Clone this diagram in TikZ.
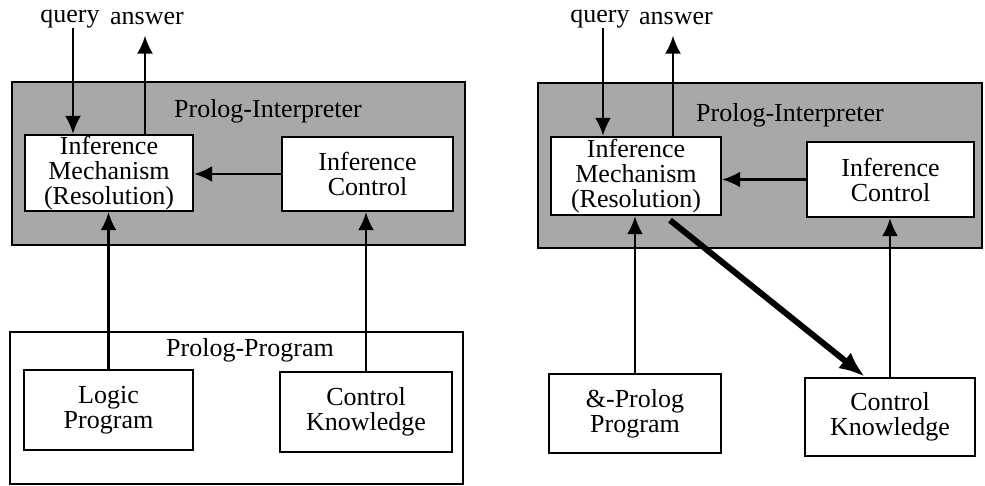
\documentclass[tikz,border=0pt]{standalone}
\usepackage{fontspec}
\setmainfont{Liberation Serif}
\usetikzlibrary{arrows.meta}

\begin{document}
\begin{tikzpicture}[x=0.5pt,y=-0.5pt,
>={Latex[length=9pt,width=8pt]},
every node/.style={font=\fontsize{13}{12.5}\selectfont,align=center,inner sep=0pt},
shaded/.style={draw,line width=1.2pt,fill=gray!68},
frame/.style={draw,line width=1.2pt,fill=white},
link/.style={->,line width=1.2pt},
boldlink/.style={-{Latex[length=13pt,width=10pt]},line width=3pt}]

\useasboundingbox (0,0) rectangle (985,486);

% left: sequential Prolog
\node[shaded,minimum width=226.5pt,minimum height=81.5pt] (intL) at (238.5,163.5) {};
\node (intLname) at (268,111) {Prolog-Interpreter};
\node[frame,minimum width=226.5pt,minimum height=76pt] (progL) at (236.5,408) {};
\node (progLname) at (250,350) {Prolog-Program};

\node[frame,minimum width=84pt,minimum height=38pt] (imL) at (109,173) {Inference\\Mechanism\\(Resolution)};
\node[frame,minimum width=85.5pt,minimum height=37pt] (icL) at (367.5,174) {Inference\\Control};
\node[frame,minimum width=84.5pt,minimum height=40pt] (lpL) at (108.5,410) {Logic\\Program};
\node[frame,minimum width=86pt,minimum height=40pt] (ckL) at (366,412) {Control\\Knowledge};

\node (queryL) at (70,19) {query};
\node (answerL) at (147,19) {answer};

\draw[link] ([xshift=1.5pt]queryL.south) -- ([xshift=1.5pt]queryL.south |- imL.north);
\draw[link] ([xshift=-1pt]answerL.south |- imL.north) -- ([xshift=-1pt]answerL.south) [shorten >=5pt];
\draw[link] (icL.west) -- (icL.west -| imL.east);
\draw[link] (lpL.north) -- (lpL.north |- imL.south);
\draw[link] (ckL.north) -- (ckL.north |- icL.south);

% right: &-Prolog
\node[shaded,minimum width=222pt,minimum height=82.5pt] (intR) at (760,165.5) {};
\node (intRname) at (790,115) {Prolog-Interpreter};

\node[frame,minimum width=85pt,minimum height=39pt] (imR) at (636,176) {Inference\\Mechanism\\(Resolution)};
\node[frame,minimum width=83.5pt,minimum height=37.5pt] (icR) at (890.5,179.5) {Inference\\Control};
\node[frame,minimum width=86pt,minimum height=39.5pt] (ppR) at (635,413.5) {\&-Prolog\\Program};
\node[frame,minimum width=85pt,minimum height=39pt] (ckR) at (890,417) {Control\\Knowledge};

\node (queryR) at (600,19) {query};
\node (answerR) at (676,19) {answer};

\draw[link] ([xshift=1.5pt]queryR.south) -- ([xshift=1.5pt]queryR.south |- imR.north);
\draw[link] ([xshift=-1.5pt]answerR.south |- imR.north) -- ([xshift=-1.5pt]answerR.south) [shorten >=5pt];
\draw[link] (icR.west) -- (icR.west -| imR.east);
\draw[link] (ppR.north) -- (ppR.north |- imR.south);
\draw[link] (ckR.north) -- (ckR.north |- icR.south);
\draw[boldlink] ([xshift=17pt,yshift=-2pt]imR.south) -- ([xshift=-12.5pt]ckR.north);

\end{tikzpicture}
\end{document}
